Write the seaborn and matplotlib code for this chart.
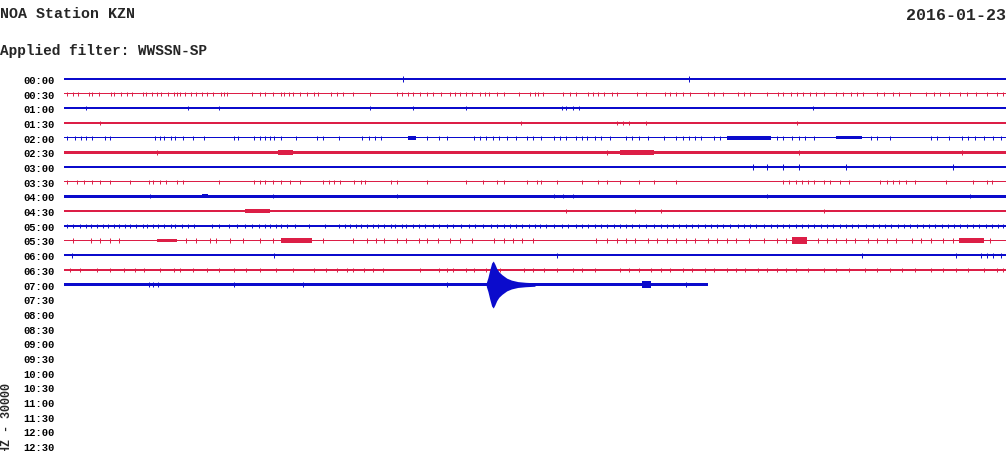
#%%              Helicorder plot, station KZN, 2016-01-23              ###

import numpy as np
import pandas as pd
import seaborn as sns
import matplotlib.pyplot as plt

# --- row labels (one line = 30 minutes) ---
ROW_LABELS = ["00:00", "00:30", "01:00", "01:30", "02:00", "02:30", "03:00",
              "03:30", "04:00", "04:30", "05:00", "05:30", "06:00", "06:30",
              "07:00", "07:30", "08:00", "08:30", "09:00", "09:30", "10:00",
              "10:30", "11:00", "11:30", "12:00", "12:30"]

COUNTS_PER_LINE = 30000          # amplitude scale of the plot

# end of recorded data on each line (minutes)
TRACE_END = [30, 30, 30, 30, 30, 30, 30, 30, 30, 30, 30, 30, 30, 30, 20.5]

# background noise level of each line (counts, half amplitude)
NOISE = [2300, 1400, 2300, 2300, 1300, 2300, 2300, 1300, 2300, 2300,
         1800, 1800, 2300, 1900, 3300]

# typical size of the isolated spikes on each line (counts)
SPIKE_AMP = [7000, 4200, 4000, 4000, 4500, 4500, 5500, 4200, 4000, 4000,
             4500, 4500, 5000, 4200, 4500]

# --- spike times (minutes into the line) ---
spikes_0000 = [10.8, 19.9]
spikes_0030 = [0.1, 0.3, 0.45, 0.8, 0.9, 1.1, 1.5, 1.6, 1.8, 2.0, 2.15, 2.5,
               2.6, 2.8, 2.95, 3.1, 3.3, 3.5, 3.6, 3.7, 3.85, 4.05, 4.2, 4.4,
               4.55, 4.75, 5.0, 5.1, 5.2, 6.0, 6.25, 6.4, 6.65, 6.9, 7.0, 7.15,
               7.3, 7.5, 7.75, 7.95, 8.1, 8.5, 8.7, 8.9, 9.2, 9.75, 10.6, 10.75,
               10.95, 11.1, 11.35, 11.55, 11.75, 12.0, 12.3, 12.45, 12.6, 12.8,
               13.0, 13.25, 13.4, 13.55, 13.8, 14.0, 14.5, 14.85, 15.0, 15.1,
               15.25, 15.9, 16.1, 16.3, 16.7, 16.85, 17.0, 17.2, 17.45, 17.6,
               18.25, 18.55, 19.15, 19.3, 19.5, 19.7, 19.95, 20.5, 20.7, 21.0,
               21.45, 21.65, 21.85, 22.4, 22.75, 22.9, 23.15, 23.35, 23.55,
               23.75, 23.95, 24.2, 24.6, 24.8, 25.05, 25.25, 25.45, 25.9, 26.1,
               26.4, 26.6, 26.95, 27.45, 27.7, 27.9, 28.2, 28.55, 28.75, 29.05,
               29.4, 29.7, 29.9]
spikes_0100 = [0.7, 3.95, 4.95, 9.75, 11.1, 12.8, 15.85, 16.0, 16.2, 16.4,
               23.85]
spikes_0130 = [1.15, 14.55, 17.6, 17.8, 18.0, 18.55, 23.35]
spikes_0200 = [0.1, 0.35, 0.55, 0.7, 0.9, 1.3, 1.45, 2.9, 3.05, 3.2, 3.4,
               3.55, 3.8, 4.1, 4.45, 5.4, 5.55, 6.05, 6.25, 6.4, 6.55, 6.7,
               6.9, 7.4, 8.05, 8.25, 8.75, 9.5, 9.7, 9.9, 10.1, 11.55, 11.95,
               12.2, 13.05, 13.25, 13.45, 13.65, 13.85, 14.1, 14.4, 14.75,
               14.95, 15.2, 15.6, 15.8, 16.0, 16.3, 16.5, 16.65, 16.9, 17.1,
               17.4, 17.9, 18.1, 18.3, 18.6, 19.1, 19.5, 19.7, 19.9, 20.1,
               20.3, 20.7, 20.9, 22.7, 22.9, 23.2, 23.4, 23.6, 23.9, 25.7,
               25.9, 26.3, 27.6, 27.8, 28.2, 28.6, 28.8, 29.0, 29.3, 29.6,
               29.85]
spikes_0230 = [2.95, 17.3, 23.4, 28.6]
spikes_0300 = [21.95, 22.4, 22.9, 23.4, 24.9, 28.3]
spikes_0330 = [0.1, 0.4, 0.65, 0.9, 1.15, 1.45, 2.1, 2.7, 2.85, 3.05, 3.25,
               3.6, 3.8, 4.95, 6.05, 6.25, 6.4, 6.65, 6.9, 7.2, 7.5, 8.25,
               8.45, 8.6, 8.8, 9.25, 9.45, 9.6, 10.4, 10.6, 11.55, 12.8, 13.35,
               13.8, 14.0, 14.75, 15.05, 15.2, 15.7, 16.5, 17.0, 17.3, 17.7,
               18.3, 18.8, 19.5, 22.9, 23.1, 23.3, 23.5, 23.7, 23.9, 24.2, 24.4,
               24.7, 25.0, 26.0, 26.2, 26.4, 26.6, 26.8, 27.1, 28.1, 28.95,
               29.4, 29.55]
spikes_0400 = [2.75, 6.65, 10.6, 15.6, 15.9, 16.2, 22.4, 28.85]
spikes_0430 = [16.0, 18.2, 19.0, 24.2]
spikes_0500 = [0.1, 0.3, 0.5, 0.7, 0.85, 1.05, 1.25, 1.4, 1.6, 1.75, 1.95,
               2.1, 2.3, 2.5, 2.65, 2.85, 3.0, 3.2, 3.4, 3.55, 3.75, 3.95,
               4.15, 4.7, 4.95, 5.25, 5.5, 5.75, 6.0, 6.2, 6.4, 6.55, 6.75,
               6.9, 7.1, 7.35, 7.8, 8.3, 8.75, 8.95, 9.1, 9.3, 9.45, 9.65,
               9.85, 10.0, 10.2, 10.4, 10.55, 10.75, 10.9, 11.1, 11.3, 11.5,
               11.75, 11.95, 12.2, 12.4, 12.65, 12.9, 13.1, 13.35, 13.6, 13.8,
               14.0, 14.2, 14.4, 14.6, 14.8, 15.0, 15.15, 15.35, 15.6, 15.85,
               16.05, 16.3, 16.5, 16.7, 16.9, 17.1, 17.3, 17.5, 17.7, 17.9,
               18.1, 18.3, 18.55, 18.8, 19.0, 19.2, 19.4, 19.6, 19.8, 20.0,
               20.2, 20.4, 20.6, 20.8, 21.0, 21.2, 21.45, 21.65, 21.85, 22.05,
               22.3, 22.5, 22.7, 22.9, 23.1, 23.3, 23.5, 23.7, 23.9, 24.1,
               24.3, 24.5, 24.7, 24.9, 25.1, 25.3, 25.55, 25.75, 25.95, 26.15,
               26.35, 26.55, 26.75, 26.95, 27.15, 27.35, 27.55, 27.75, 27.95,
               28.15, 28.35, 28.55, 28.75, 28.95, 29.15, 29.35, 29.55, 29.75,
               29.9]
spikes_0530 = [0.3, 0.85, 1.15, 1.45, 1.75, 3.9, 4.2, 4.65, 4.85, 5.3, 5.7,
               6.25, 6.65, 8.25, 9.2, 9.65, 9.95, 10.2, 10.6, 10.9, 11.3,
               11.55, 11.9, 12.3, 12.6, 13.0, 13.7, 14.0, 14.3, 14.6, 14.95,
               16.95, 17.3, 17.6, 17.9, 18.2, 18.6, 18.9, 19.2, 19.5, 19.8,
               20.1, 20.5, 20.8, 21.1, 21.4, 21.8, 22.3, 22.7, 23.0, 24.0,
               24.3, 24.6, 24.9, 25.2, 25.6, 25.9, 26.2, 26.5, 27.0, 27.3,
               27.6, 28.0, 28.3, 29.5]
spikes_0600 = [0.25, 6.7, 15.7, 25.4, 28.4, 29.2, 29.4, 29.6, 29.85]
spikes_0630 = [0.2, 0.5, 1.05, 1.45, 1.9, 2.25, 2.55, 3.05, 3.5, 3.7, 4.1,
               4.55, 4.95, 5.4, 5.8, 6.25, 6.75, 7.3, 7.95, 8.35, 8.7, 9.0,
               9.2, 9.55, 9.85, 10.15, 11.35, 11.95, 12.2, 12.4, 12.8, 13.05,
               13.45, 13.9, 14.65, 14.95, 15.3, 15.7, 16.2, 16.5, 16.9, 17.7,
               18.0, 18.3, 18.7, 19.0, 19.3, 19.7, 20.0, 20.4, 20.7, 21.1,
               21.4, 21.7, 22.1, 22.4, 22.7, 23.0, 23.3, 23.7, 24.2, 24.6,
               25.0, 25.5, 25.9, 26.3, 26.7, 27.1, 27.6, 28.0, 28.4, 28.8,
               29.3, 29.7, 29.9]
spikes_0700 = [2.7, 2.85, 3.0, 5.4, 7.6, 12.2, 19.8]

# noise bursts: (line, start min, end min, half amplitude in counts)
BURSTS = [(4, 10.95, 11.2, 4000), (4, 21.1, 22.5, 3800), (4, 24.6, 25.4, 3000),
          (5, 6.8, 7.3, 5000), (5, 7.3, 8.0, 3000), (5, 17.7, 18.8, 5000),
          (5, 21.7, 22.4, 3800), (8, 4.38, 4.6, 4200), (8, 12.6, 13.5, 2700),
          (8, 24.3, 25.5, 2700), (9, 5.75, 6.55, 3800), (11, 2.95, 3.6, 3300),
          (11, 6.9, 7.9, 4800), (11, 23.2, 23.65, 7000), (11, 28.5, 29.3, 5000),
          (14, 18.4, 18.7, 7500)]

# earthquake on the 07:00 line: envelope (minutes, half amplitude in counts)
QUAKE_T = [13.45, 13.5, 13.56, 13.62, 13.67, 13.72, 13.78, 13.85, 13.95,
           14.1, 14.25, 14.45, 14.7, 15.0]
QUAKE_A = [4000, 14000, 30000, 44000, 48000, 42000, 33000, 26000, 20000,
           13000, 9000, 6000, 4500, 3500]

SPIKES = [spikes_0000, spikes_0030, spikes_0100, spikes_0130, spikes_0200,
          spikes_0230, spikes_0300, spikes_0330, spikes_0400, spikes_0430,
          spikes_0500, spikes_0530, spikes_0600, spikes_0630, spikes_0700]

blue = "#0b0bcc"
red = "#dc1e46"

###########################################################
#%%                      Plot                          ###
###########################################################

sns.set_theme(style="white")
plt.rcParams['font.family'] = ['Liberation Mono', 'DejaVu Sans Mono']
plt.rcParams['font.weight'] = 'bold'

fig = plt.figure(figsize=(10.08, 4.52), dpi=100)
ax = fig.add_axes([64 / 1008, 0, 942 / 1008, 380 / 452])

for i in range(len(TRACE_END)):
    c = blue if i % 2 == 0 else red
    n = NOISE[i] / COUNTS_PER_LINE
    ax.fill_between([0, TRACE_END[i]], i - n, i + n, color=c, lw=0)
    a = SPIKE_AMP[i] / COUNTS_PER_LINE
    sp = np.array(SPIKES[i])
    ax.vlines(sp, i - a, i + a, color=c, lw=0.7)

bursts = pd.DataFrame(BURSTS, columns=["line", "t0", "t1", "amp"])
for _, b in bursts.iterrows():
    c = blue if int(b.line) % 2 == 0 else red
    a = b.amp / COUNTS_PER_LINE
    ax.fill_between([b.t0, b.t1], b.line - a, b.line + a, color=c, lw=0)

qa = np.array(QUAKE_A) / COUNTS_PER_LINE
ax.fill_between(QUAKE_T, 14 - qa, 14 + qa, color=blue, lw=0)

ax.set_xlim(0, 30)
ax.set_ylim(25.34, -0.545)
ax.set_xticks([])
ax.set_yticks(range(len(ROW_LABELS)))
ax.set_yticklabels(ROW_LABELS)
ax.tick_params(axis="y", length=0, pad=6.5, labelsize=7.5, labelcolor="black")
sns.despine(ax=ax, left=True, bottom=True, top=True, right=True)
ax.set_facecolor("white")

fig.text(0.0, 1 - 14 / 452, "NOA Station KZN", fontsize=10.8, va="center", ha="left")
fig.text(0.0, 1 - 51 / 452, "Applied filter: WWSSN-SP", fontsize=10.4, va="center", ha="left")
fig.text(906 / 1008, 1 - 15 / 452, "2016-01-23", fontsize=12, va="center", ha="left")
fig.text(0.5 / 1008, 1 - 383 / 452, "HHZ - 30000", fontsize=8.5, rotation=90,
         va="top", ha="left")

fig.savefig("out.png", dpi=100)
